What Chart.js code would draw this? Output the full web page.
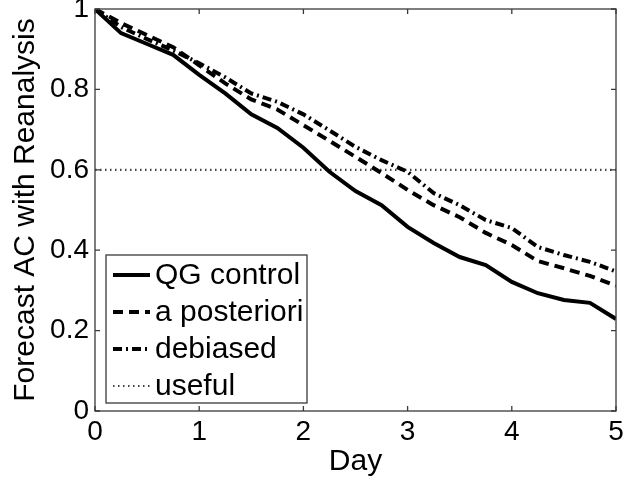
<!DOCTYPE html>
<html>
<head>
<meta charset="utf-8">
<script src="https://cdn.jsdelivr.net/npm/chart.js@4.4.0/dist/chart.umd.min.js"></script>
<style>
  html, body { margin: 0; padding: 0; background: #fff; }
  #wrap { width: 635px; height: 482px; }
</style>
</head>
<body>
<div id="wrap"><canvas id="ac-chart" width="635" height="482"></canvas></div>
<script>
// forecast anomaly correlation vs. lead time (days)
const days = [0, 0.25, 0.5, 0.75, 1, 1.25, 1.5, 1.75, 2, 2.25, 2.5, 2.75, 3, 3.25, 3.5, 3.75, 4, 4.25, 4.5, 4.75, 5];
const qgControl   = [1, 0.940, 0.913, 0.886, 0.836, 0.790, 0.738, 0.704, 0.655, 0.595, 0.547, 0.512, 0.458, 0.418, 0.383, 0.363, 0.321, 0.293, 0.276, 0.269, 0.229];
const aPosteriori = [1, 0.965, 0.935, 0.905, 0.860, 0.815, 0.775, 0.750, 0.711, 0.672, 0.632, 0.592, 0.550, 0.512, 0.482, 0.443, 0.413, 0.373, 0.355, 0.336, 0.312];
const debiased    = [1, 0.955, 0.925, 0.897, 0.865, 0.830, 0.790, 0.769, 0.738, 0.698, 0.657, 0.624, 0.595, 0.542, 0.512, 0.475, 0.455, 0.408, 0.388, 0.371, 0.347];
const usefulLevel = 0.6;
const seriesLabels = ['QG control', 'a posteriori', 'debiased', 'useful'];
const xTicks = [0, 1, 2, 3, 4, 5];
const xTickLabels = ['0', '1', '2', '3', '4', '5'];
const yTicks = [0, 0.2, 0.4, 0.6, 0.8, 1];
const yTickLabels = ['0', '0.2', '0.4', '0.6', '0.8', '1'];

const FONT = '"Liberation Sans", Arial, Helvetica, sans-serif';
const AXIS_COLOR = '#3a3a3a';

function points(vals) {
    return days.map((d, i) => ({ x: d, y: vals[i] }));
}

// box round the plot, inward ticks, legend inside the plot
const frameAndLegend = {
    id: 'frameAndLegend',
    afterDatasetsDraw(chart) {
        const ctx = chart.ctx;
        const a = chart.chartArea;
        const xs = chart.scales.x, ys = chart.scales.y;
        ctx.save();
        ctx.strokeStyle = AXIS_COLOR;
        ctx.lineWidth = 1.3;
        ctx.setLineDash([]);
        ctx.strokeRect(a.left, a.top, a.right - a.left, a.bottom - a.top);
        const tl = 5;
        ctx.beginPath();
        xTicks.forEach(v => {
            const px = xs.getPixelForValue(v);
            ctx.moveTo(px, a.bottom); ctx.lineTo(px, a.bottom - tl);
            ctx.moveTo(px, a.top); ctx.lineTo(px, a.top + tl);
        });
        yTicks.forEach(v => {
            const py = ys.getPixelForValue(v);
            ctx.moveTo(a.left, py); ctx.lineTo(a.left + tl, py);
            ctx.moveTo(a.right, py); ctx.lineTo(a.right - tl, py);
        });
        ctx.stroke();

        // legend
        const bx = a.left + 11, bw = 201, bh = 148;
        const by = a.bottom - 8 - bh;
        ctx.fillStyle = '#fff';
        ctx.fillRect(bx, by, bw, bh);
        ctx.strokeRect(bx, by, bw, bh);
        ctx.font = '30px ' + FONT;
        ctx.textBaseline = 'middle';
        ctx.textAlign = 'left';
        chart.data.datasets.forEach((ds, i) => {
            const cy = by + 21 + i * 37;
            ctx.beginPath();
            ctx.strokeStyle = ds.borderColor;
            ctx.lineWidth = ds.borderWidth;
            ctx.setLineDash(ds.borderDash || []);
            ctx.moveTo(bx + 7, cy - 1);
            ctx.lineTo(bx + 44, cy - 1);
            ctx.stroke();
            ctx.setLineDash([]);
            ctx.fillStyle = '#000';
            ctx.fillText(ds.label, bx + 49, cy);
        });
        ctx.restore();
    }
};

new Chart(document.getElementById('ac-chart'), {
    type: 'line',
    data: {
        datasets: [
            {
                label: seriesLabels[0],
                data: points(qgControl),
                borderColor: '#000',
                borderWidth: 4
            },
            {
                label: seriesLabels[1],
                data: points(aPosteriori),
                borderColor: '#000',
                borderWidth: 4,
                borderDash: [10, 6]
            },
            {
                label: seriesLabels[2],
                data: points(debiased),
                borderColor: '#000',
                borderWidth: 4,
                borderDash: [9, 4, 2, 4]
            },
            {
                label: seriesLabels[3],
                data: [{ x: days[0], y: usefulLevel }, { x: days[days.length - 1], y: usefulLevel }],
                borderColor: '#444',
                borderWidth: 2.2,
                borderDash: [1.5, 3.5]
            }
        ]
    },
    options: {
        responsive: false,
        animation: false,
        layout: { padding: { top: 9, right: 19, left: 0, bottom: 0 } },
        elements: {
            point: { radius: 0 },
            line: { tension: 0, borderCapStyle: 'butt' }
        },
        plugins: {
            legend: { display: false },
            tooltip: { enabled: false }
        },
        scales: {
            x: {
                type: 'linear',
                min: 0, max: 5,
                afterBuildTicks: s => { s.ticks = xTicks.map(v => ({ value: v })); },
                afterFit: s => { s.height = 71; s.paddingLeft = 0; s.paddingRight = 0; },
                grid: { display: false, drawTicks: false },
                border: { display: false },
                ticks: {
                    color: '#000',
                    font: { family: FONT, size: 28 },
                    padding: 4,
                    maxRotation: 0,
                    callback: v => xTickLabels[xTicks.indexOf(v)]
                },
                title: {
                    display: true,
                    text: 'Day',
                    color: '#000',
                    font: { family: FONT, size: 30 },
                    padding: { top: 0, bottom: 2 }
                }
            },
            y: {
                min: 0, max: 1,
                afterBuildTicks: s => { s.ticks = yTicks.map(v => ({ value: v })); },
                afterFit: s => { s.width = 95; s.paddingTop = 0; s.paddingBottom = 0; },
                grid: { display: false, drawTicks: false },
                border: { display: false },
                ticks: {
                    color: '#000',
                    font: { family: FONT, size: 28 },
                    padding: 6,
                    callback: v => yTickLabels[yTicks.indexOf(v)]
                },
                title: {
                    display: true,
                    text: 'Forecast AC with Reanalysis',
                    color: '#000',
                    font: { family: FONT, size: 30 },
                    padding: { top: 8, bottom: 0 }
                }
            }
        }
    },
    plugins: [frameAndLegend]
});
</script>
</body>
</html>
